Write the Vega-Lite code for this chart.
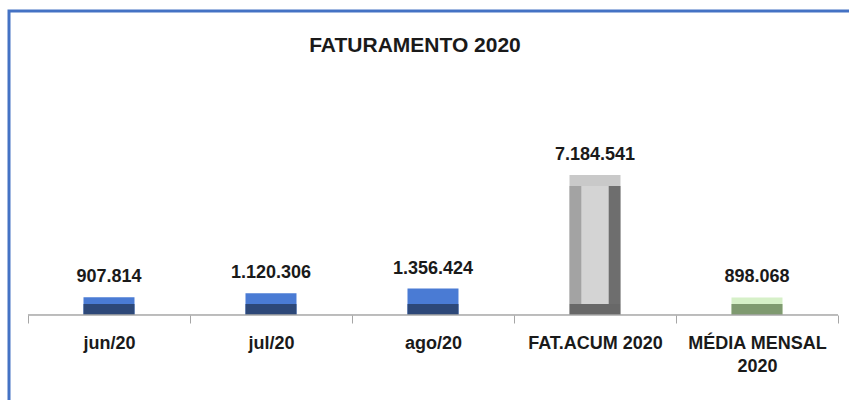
{
  "$schema": "https://vega.github.io/schema/vega-lite/v6.json",
  "width": 840,
  "height": 389,
  "autosize": {"type": "none"},
  "padding": {"left": 9, "top": 11, "right": 0, "bottom": 0},
  "background": "white",
  "config": {
    "locale": {"number": {"decimal": ",", "thousands": ".", "grouping": [3], "currency": ["R$", ""]}},
    "view": {"stroke": "#4472c4", "strokeWidth": 3, "strokeDash": [840, 1229, 389, 1]},
    "font": "Liberation Sans"
  },
  "title": {
    "text": "FATURAMENTO 2020",
    "font": "Liberation Sans",
    "fontSize": 21,
    "fontWeight": "bold",
    "color": "#1a1a1a",
    "anchor": "middle",
    "baseline": "alphabetic",
    "dx": -14,
    "offset": -62
  },
  "data": {
    "values": [
      {"cat": "jun/20", "value": 907814},
      {"cat": "jul/20", "value": 1120306},
      {"cat": "ago/20", "value": 1356424},
      {"cat": "FAT.ACUM 2020", "value": 7184541},
      {"cat": "MÉDIA MENSAL 2020", "value": 898068}
    ]
  },
  "encoding": {
    "x": {
      "field": "cat",
      "type": "nominal",
      "sort": null,
      "title": null,
      "scale": {"paddingInner": 0, "paddingOuter": 0.0926, "align": 0.633},
      "axis": {
        "orient": "bottom",
        "offset": -85,
        "domain": false,
        "tickBand": "extent",
        "tickSize": 8,
        "tickColor": "#a6a6a6",
        "tickWidth": 1,
        "labelAngle": 0,
        "labelFont": "Liberation Sans",
        "labelFontSize": 18,
        "labelFontWeight": "bold",
        "labelColor": "#1a1a1a",
        "labelPadding": 11,
        "labelLineHeight": 23,
        "labelLimit": 0,
        "labelExpr": "datum.value == 'MÉDIA MENSAL 2020' ? ['MÉDIA MENSAL', '2020'] : datum.value"
      }
    }
  },
  "layer": [
    {
      "mark": {"type": "bar", "width": 51},
      "encoding": {
        "y": {"field": "value", "type": "quantitative", "axis": null, "scale": {"domain": [-4361900, 15600000], "nice": false, "zero": false}},
        "y2": {"datum": 0},
        "color": {
          "field": "cat", "type": "nominal", "legend": null,
          "scale": {"domain": ["jun/20", "jul/20", "ago/20", "FAT.ACUM 2020", "MÉDIA MENSAL 2020"], "range": ["#4a7bd4", "#4a7bd4", "#4a7bd4", "#c9c9c9", "#d6f0c8"]}
        }
      }
    },
    {
      "mark": {"type": "bar", "width": 51, "yOffset": -11},
      "encoding": {
        "y": {"datum": 0, "type": "quantitative"},
        "y2": {"datum": 0},
        "color": {
          "field": "cat", "type": "nominal", "legend": null,
          "scale": {"domain": ["jun/20", "jul/20", "ago/20", "FAT.ACUM 2020", "MÉDIA MENSAL 2020"], "range": ["#2d4878", "#2d4878", "#2d4878", "#686868", "#7f9a70"]}
        }
      }
    },
    {
      "transform": [{"filter": "datum.cat == 'FAT.ACUM 2020'"}],
      "mark": {"type": "bar", "width": 12, "xOffset": -19.5, "yOffset": 11, "y2Offset": -11, "color": "#a3a3a3"},
      "encoding": {
        "y": {"field": "value", "type": "quantitative"},
        "y2": {"datum": 0}
      }
    },
    {
      "transform": [{"filter": "datum.cat == 'FAT.ACUM 2020'"}],
      "mark": {"type": "bar", "width": 12, "xOffset": 19.5, "yOffset": 11, "y2Offset": -11, "color": "#6e6e6e"},
      "encoding": {
        "y": {"field": "value", "type": "quantitative"},
        "y2": {"datum": 0}
      }
    },
    {
      "transform": [{"filter": "datum.cat == 'FAT.ACUM 2020'"}],
      "mark": {"type": "bar", "width": 27, "yOffset": 11, "y2Offset": -11, "color": "#d4d4d4"},
      "encoding": {
        "y": {"field": "value", "type": "quantitative"},
        "y2": {"datum": 0}
      }
    },
    {
      "mark": {"type": "bar", "width": {"band": 1}, "fill": null, "fillOpacity": 0, "stroke": "#a6a6a6", "strokeWidth": 1},
      "encoding": {
        "y": {"datum": 0, "type": "quantitative"},
        "y2": {"datum": 0}
      }
    },
    {
      "mark": {"type": "text", "baseline": "alphabetic", "dy": -15, "font": "Liberation Sans", "fontSize": 18, "fontWeight": "bold", "color": "#1a1a1a"},
      "encoding": {
        "y": {"field": "value", "type": "quantitative"},
        "text": {"field": "value", "type": "quantitative", "format": ",.0f"}
      }
    }
  ],
  "resolve": {"scale": {"color": "independent"}}
}
